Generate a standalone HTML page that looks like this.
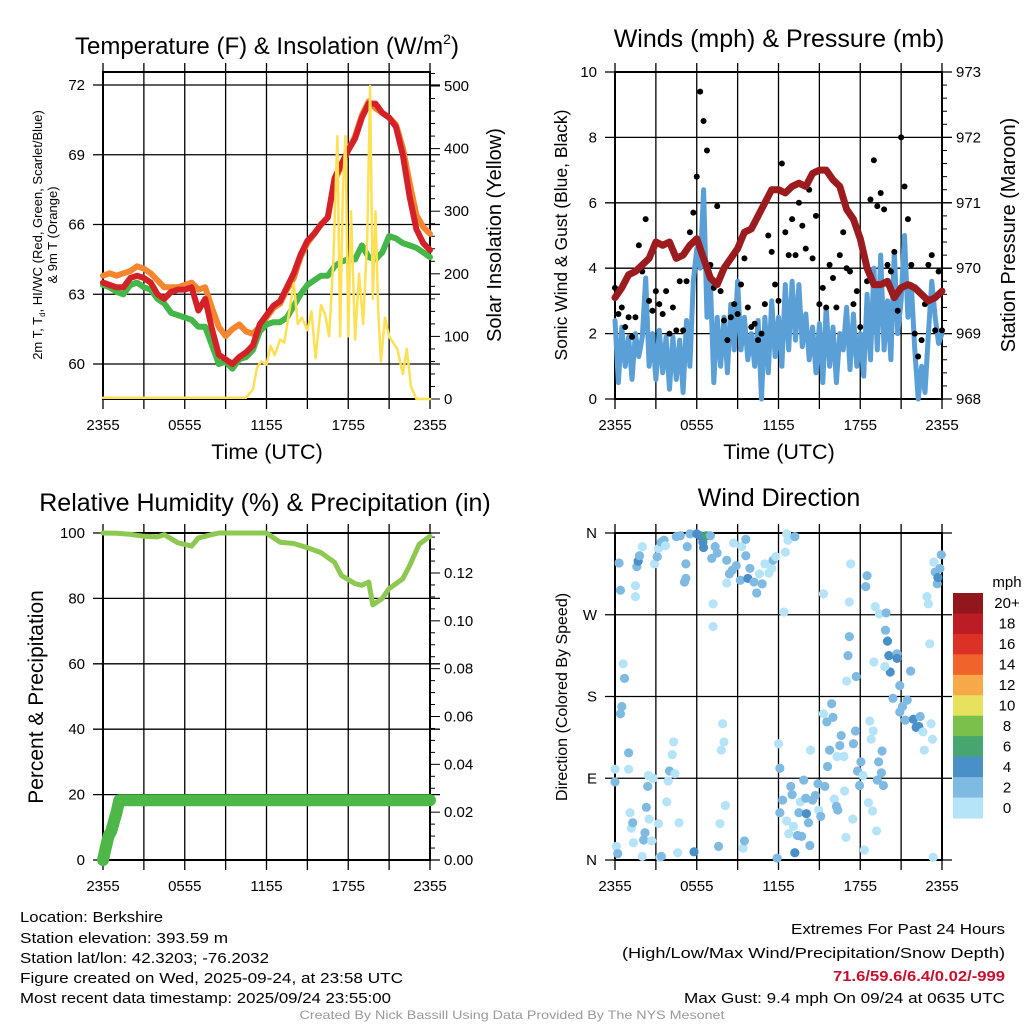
<!DOCTYPE html>
<html><head><meta charset="utf-8"><style>
html,body{margin:0;padding:0;background:#fff;}
svg{display:block;font-family:"Liberation Sans",sans-serif;}
</style></head><body>
<svg id="fig" width="1024" height="1024" viewBox="0 0 1024 1024" xmlns="http://www.w3.org/2000/svg">
<rect width="1024" height="1024" fill="#fff"/>
<g id="p1"></g>
<g id="p2"></g>
<g id="p3"></g>
<g id="p4"></g>
<g id="cbar"></g>

<text x="267" y="54" font-size="24" text-anchor="middle">Temperature (F) &amp; Insolation (W/m<tspan font-size="14" dy="-10">2</tspan><tspan dy="10">)</tspan></text>
<text x="779" y="47" font-size="25" text-anchor="middle">Winds (mph) &amp; Pressure (mb)</text>
<text x="265" y="511" font-size="25" text-anchor="middle">Relative Humidity (%) &amp; Precipitation (in)</text>
<text x="779" y="506" font-size="25" text-anchor="middle">Wind Direction</text>

<text x="267" y="459" font-size="21.5" text-anchor="middle">Time (UTC)</text>
<text x="779" y="459" font-size="21.5" text-anchor="middle">Time (UTC)</text>

<text transform="translate(42,235) rotate(-90)" font-size="13" text-anchor="middle">2m T, T<tspan font-size="8" dy="3">d</tspan><tspan dy="-3">, HI/WC (Red, Green, Scarlet/Blue)</tspan></text>
<text transform="translate(57,235) rotate(-90)" font-size="13" text-anchor="middle">&amp; 9m T (Orange)</text>
<text transform="translate(501,235) rotate(-90)" font-size="20" text-anchor="middle">Solar Insolation (Yellow)</text>
<text transform="translate(567,235) rotate(-90)" font-size="17.5" text-anchor="middle">Sonic Wind &amp; Gust (Blue, Black)</text>
<text transform="translate(1015,235) rotate(-90)" font-size="20" text-anchor="middle">Station Pressure (Maroon)</text>
<text transform="translate(43,697) rotate(-90)" font-size="21" text-anchor="middle">Percent &amp; Precipitation</text>
<text transform="translate(567,697) rotate(-90)" font-size="16" text-anchor="middle">Direction (Colored By Speed)</text>

<g font-size="15" font-family="'Liberation Sans Narrow','Liberation Sans',sans-serif">
<text x="20" y="922" textLength="143" lengthAdjust="spacingAndGlyphs">Location: Berkshire</text>
<text x="20" y="943" textLength="208" lengthAdjust="spacingAndGlyphs">Station elevation: 393.59 m</text>
<text x="20" y="963" textLength="249" lengthAdjust="spacingAndGlyphs">Station lat/lon: 42.3203; -76.2032</text>
<text x="20" y="983" textLength="383" lengthAdjust="spacingAndGlyphs">Figure created on Wed, 2025-09-24, at 23:58 UTC</text>
<text x="20" y="1003" textLength="371" lengthAdjust="spacingAndGlyphs">Most recent data timestamp: 2025/09/24 23:55:00</text>
</g>
<g font-size="15" font-family="'Liberation Sans Narrow','Liberation Sans',sans-serif" text-anchor="end">
<text x="1005" y="934" textLength="214" lengthAdjust="spacingAndGlyphs">Extremes For Past 24 Hours</text>
<text x="1005" y="958" textLength="383" lengthAdjust="spacingAndGlyphs">(High/Low/Max Wind/Precipitation/Snow Depth)</text>
<text x="1005" y="981" fill="#c8102e" font-weight="bold" textLength="172" lengthAdjust="spacingAndGlyphs">71.6/59.6/6.4/0.02/-999</text>
<text x="1005" y="1003" textLength="321" lengthAdjust="spacingAndGlyphs">Max Gust: 9.4 mph On 09/24 at 0635 UTC</text>
</g>
<text x="512" y="1019" font-size="12" fill="#999" text-anchor="middle" font-family="'Liberation Sans Narrow','Liberation Sans',sans-serif" textLength="425" lengthAdjust="spacingAndGlyphs">Created By Nick Bassill Using Data Provided By The NYS Mesonet</text>
</svg>
<script>
// ---------- data ----------
const timeTickLabels = ["2355","0555","1155","1755","2355"];
const tempTicks = [60,63,66,69,72];
const solarTicks = [0,100,200,300,400,500];
const windTicks = [0,2,4,6,8,10];
const pressTicks = [968,969,970,971,972,973];
const rhTicks = [0,20,40,60,80,100];
const precipTicks = ["0.00","0.02","0.04","0.06","0.08","0.10","0.12"];
const dirLabels = ["N","E","S","W","N"];

// half-hourly temperatures (hours 0..24)
const tempRed = [63.5,63.4,63.3,63.3,63.7,63.8,63.7,63.5,63.0,62.8,63.1,63.2,63.2,63.3,62.3,62.8,61.5,60.4,60.2,60.0,60.3,60.5,60.8,61.7,62.1,62.5,62.7,63.3,63.9,64.7,65.3,65.6,66.0,66.3,68.0,68.6,69.2,69.7,70.6,71.2,71.2,70.8,70.6,70.2,69.0,67.2,65.8,65.2,64.9];
const tempOrange = [63.8,63.9,63.8,63.9,64.0,64.2,64.1,63.9,63.6,63.3,63.3,63.3,63.4,63.5,63.2,63.3,62.4,61.6,61.2,61.5,61.7,61.4,61.3,61.6,62.0,62.4,62.6,63.2,63.7,64.6,65.2,65.6,66.0,66.3,67.9,68.5,69.2,69.8,70.7,71.3,71.0,70.8,70.6,70.3,69.3,67.8,66.4,65.9,65.6];
const tempGreen = [63.4,63.3,63.1,63.0,63.4,63.5,63.3,63.2,62.8,62.6,62.2,62.1,62.0,61.9,61.6,61.6,60.8,60.0,60.1,59.8,60.2,60.3,60.6,61.4,61.7,61.8,61.8,62.0,62.5,63.0,63.4,63.6,63.8,63.8,64.2,64.4,64.5,64.5,65.1,64.6,64.5,64.8,65.5,65.4,65.2,65.1,65.0,64.8,64.6];
const solarHours = [0,10.5,11.0,11.3,11.6,12.0,12.3,12.6,13.0,13.3,13.6,14.0,14.3,14.6,15.0,15.3,15.6,16.0,16.3,16.6,16.9,17.2,17.4,17.6,17.8,18.0,18.2,18.5,18.8,19.1,19.4,19.6,19.8,20.0,20.2,20.4,20.7,21.0,21.3,21.6,22.0,22.3,22.6,23.0,23.3,24];
const solarVals = [2,2,15,50,60,55,85,70,95,90,130,185,120,130,110,140,65,150,135,100,220,420,100,330,420,100,300,95,200,120,260,500,160,300,140,60,130,100,90,80,40,80,20,0,0,0];

// quarter-hourly winds (hours 0..24)
const windSpeed = [2.4,0.5,2.2,1.0,1.9,0.6,2.0,1.3, 1.9,3.7,1.0,2.0,0.6,2.1,0.8,1.9, 0.3,1.9,0.6,1.8,0.2,2.4,1.0,3.6, 4.6,4.0,6.4,2.5,3.6,0.5,2.5,1.0, 2.5,0.8,2.9,1.5,3.6,1.5,2.5,1.2, 2.0,1.0,2.4,0.0,2.5,0.8,3.0,1.3, 2.5,1.0,3.5,1.5,3.6,1.8,3.5,1.6, 2.6,1.2,2.2,0.8,2.3,0.5,2.8,1.0, 2.2,0.5,2.0,1.5,2.8,0.9,2.6,1.0, 2.0,0.7,3.2,1.2,4.0,1.5,4.4,1.5, 3.0,1.2,4.5,2.0,3.0,5.0,2.5,3.5, 1.5,0.0,1.0,0.2,2.0,3.6,2.5,1.7,2.0];
const windGust = [3.4,2.6,2.8,2.2,2.5,1.9,2.5,4.7, 3.9,5.5,3.0,2.7,3.3,2.9,2.6,3.3, 2.0,2.8,2.1,3.6,2.1,3.6,5.1,5.7, 6.8,9.4,8.5,7.6,4.1,3.4,5.9,3.3, 2.4,1.8,2.5,2.9,2.6,3.5,4.3,2.8, 2.2,2.3,1.8,2.0,2.9,5.0,4.5,3.5, 3.0,7.2,5.1,4.4,5.5,4.4,6.0,5.3, 4.6,6.4,4.3,5.6,2.9,3.4,2.8,4.1, 3.7,2.8,4.4,5.1,4.0,3.9,2.9,3.3, 2.2,4.4,3.6,6.1,7.3,5.9,6.3,5.8, 4.1,3.9,4.5,2.7,8.0,6.5,5.5,4.1, 2.0,1.3,1.8,2.9,4.1,4.4,2.1,3.9,2.1];
// half-hourly pressure (mb)
const pressure = [969.55,969.7,969.9,969.95,970.05,970.15,970.4,970.35,970.4,970.15,970.2,970.35,970.45,970.15,969.85,969.75,970.0,970.15,970.3,970.55,970.6,970.8,971.0,971.2,971.2,971.15,971.25,971.3,971.25,971.45,971.5,971.5,971.35,971.25,970.9,970.75,970.45,970.0,969.75,969.75,969.8,969.55,969.7,969.75,969.7,969.6,969.5,969.55,969.65];

// humidity & precip
const rhHours = [0,1,2,3,4,4.5,5.5,6.5,7,8,8.5,10,12,13,14,15,16,17,17.5,18.5,19,19.5,19.8,20.5,21,22,22.5,23.2,24];
const rhVals = [100,99.9,99.6,99,98.8,99.5,97,96,98.5,99.5,100,100,100,97.2,96.8,95.5,94,91,87,84.5,84,85,78,80,83,86,90,96.5,99];
const precipHours = [0,0.2,0.4,0.6,0.8,1.0,1.2,24];
const precipVals = [0,0.005,0.01,0.012,0.016,0.02,0.025,0.025];

// wind direction scatter
const dirHours = [0.3,0.4,1.5,1.5,1.6,1.7,1.8,2.0,2.9,3.1,3.2,3.4,3.6,3.7,4.5,4.8,5.2,5.1,5.2,5.3,5.5,6.0,6.25,6.45,6.5,6.7,7.0,7.1,7.35,7.5,7.2,7.2,8.2,8.2,8.4,8.6,8.7,8.9,9.2,9.3,9.6,9.6,9.75,9.9,10.2,10.4,10.6,10.8,11.0,11.3,11.5,11.6,11.8,12.4,12.5,12.6,12.7,13.2,15.3,17.2,17.3,18.4,18.5,19.1,19.4,19.9,19.85,20.0,20.1,20.7,20.7,20.2,19.8,19.0,20.9,20.4,20.9,21.1,21.3,21.45,21.7,21.9,22.1,22.3,22.4,22.6,22.7,23.2,23.3,23.1,22.9,23.0,23.4,23.5,23.65,23.7,23.85,23.95,23.35,17.1,17.2,17.7,17.0,
0.6,0.7,0.5,0.4,1.0,0.0,0.0,1.0,1.1,1.2,1.3,1.35,2.2,2.1,2.3,2.4,2.5,2.45,2.7,2.8,3.2,3.3,3.4,3.8,3.9,4.0,4.2,4.3,4.4,4.6,4.7,5.8,7.6,7.7,7.8,7.9,8.0,8.1,9.4,9.5,0.1,0.2,2.0,12.0,12.1,11.9,12.1,12.3,12.6,12.75,12.9,13.0,13.1,13.2,13.4,13.5,13.6,13.7,13.85,14.0,14.05,14.2,14.3,14.35,14.5,14.7,14.9,14.95,15.1,15.3,15.4,15.55,15.6,15.75,15.9,16.0,16.1,16.25,16.35,16.5,16.6,16.8,16.85,16.95,17.5,17.65,17.8,17.95,18.05,18.2,18.3,18.6,18.7,18.8,18.9,18.95,19.2,19.25,19.35,19.55,19.6,19.7,16.3,17.45];
const dirDegs = [327,297,302,290,323,329,335,345,326,334,343,350,352,346,356,357,326,306,310,345,359,359,357,350,344,357,357,332,345,338,282,257,305,330,315,319,349,324,308,345,353,335,310,321,306,294,315,304,326,316,321,330,334,273,339,359,352,356,293,284,326,301,313,279,271,272,253,241,225,227,222,207,213,218,192,178,163,169,154,176,208,155,146,147,158,141,121,150,133,238,290,282,328,317,304,311,321,336,3,225,246,202,197,
216,200,169,161,118,100,86,100,52,35,41,19,30,22,58,81,45,93,21,90,40,3,4,64,87,98,116,130,95,8,41,9,15,40,121,150,130,60,13,21,15,7,4,128,101,2,52,66,43,29,81,72,37,8,27,52,64,26,88,68,51,41,16,121,66,71,84,55,48,161,81,152,103,121,172,157,67,59,55,126,137,114,76,25,128,142,98,82,108,93,11,63,153,133,54,142,32,88,108,96,120,82,114,45];
const dirSpeeds = [2.5,2.5,1,1,2.5,4.5,2.5,1,1,2.5,1,2.5,2.5,1,2.5,2.5,2.5,2.5,2.5,2.5,2.5,4.5,4.5,4.5,4.5,6.5,2.5,2.5,2.5,2.5,1,1,1,2.5,2.5,2.5,1,2.5,2.5,1,2.5,2.5,4.5,2.5,2.5,2.5,1,2.5,1,1,1,2.5,1,1,1,1,1,2.5,1,1,1,2.5,2.5,1,1,2.5,2.5,4.5,4.5,2.5,4.5,4.5,1,1,2.5,2.5,2.5,2.5,2.5,2.5,2.5,4.5,4.5,4.5,2.5,1,1,1,1,1,1,1,1,2.5,2.5,4.5,2.5,2.5,1,2.5,2.5,2.5,1,
1,2.5,2.5,2.5,2.5,1,2.5,1,1,1,2.5,1,2.5,2.5,2.5,2.5,1,1,1,1,1,1,2.5,1,1,2.5,1,1,1,1,1,4.5,2.5,1,1,1,1,1,1,2.5,1,2.5,1,1,2.5,2.5,2.5,2.5,1,1,2.5,2.5,1,4.5,2.5,2.5,1,2.5,2.5,2.5,4.5,2.5,2.5,1,2.5,2.5,2.5,1,2.5,1,2.5,2.5,2.5,2.5,2.5,2.5,1,2.5,2.5,2.5,2.5,1,1,1,2.5,2.5,2.5,2.5,2.5,1,1,1,1,1,1,1,1,2.5,2.5,2.5,2.5,2.5,1,1];

const cbarLabels = ["20+","18","16","14","12","10","8","6","4","2","0"];
const cbarColors = ["#91171c","#bb1c25","#dc3126","#f0632a","#f7a848","#e7e25b","#7bc04a","#47a56f","#4a90c8","#7fbae3","#b5e3f8"];

// ---------- helpers ----------
const NS = "http://www.w3.org/2000/svg";
function el(tag, attrs, parent){ const e=document.createElementNS(NS,tag); for(const k in attrs) e.setAttribute(k,attrs[k]); parent.appendChild(e); return e; }
function lin(d0,d1,r0,r1){ return v => r0 + (v-d0)/(d1-d0)*(r1-r0); }

function frame(g, x0,x1,y0,y1, nameP){
  const xs = lin(0,24,x0,x1);
  for(let i=0;i<=8;i++){
    const x = xs(i*3);
    const l = el("line",{x1:x,x2:x,y1:y0-9,y2:y1+10,stroke:"#000","stroke-width":1.3},g);
    
    
  }
  for(let i=0;i<5;i++){
    const t = el("text",{x:xs(i*6),y:y1+31,"font-size":15,"text-anchor":"middle"},g);
    t.textContent = timeTickLabels[i];
    
    
  }
  const b = el("rect",{x:x0,y:y0,width:x1-x0,height:y1-y0,fill:"none",stroke:"#000","stroke-width":2},g);
  
  
  return xs;
}
function hgrid(g,x0,x1,y,lab,xl){
  const l = el("line",{x1:x0-10,x2:x1+10,y1:y,y2:y,stroke:"#000","stroke-width":1.3},g);
  
  
  if(lab!==null){
    const t = el("text",{x:xl,y:y+5,"font-size":15,"text-anchor":"end"},g);
    t.textContent = lab;
    
    
  }
}
function rlabel(g,x,y,lab){
  const t = el("text",{x:x,y:y+5,"font-size":15,"text-anchor":"start"},g);
  t.textContent = lab;
  
  
}
function rtick(g,x,y,len){
  const l=el("line",{x1:x,x2:x+len,y1:y,y2:y,stroke:"#000","stroke-width":1},g);
  
  
}
function poly(g, xsArr, ysArr, color, w, name){
  const pts = xsArr.map((x,i)=>x.toFixed(1)+","+ysArr[i].toFixed(1)).join(" ");
  const p = el("polyline",{points:pts,fill:"none",stroke:color,"stroke-width":w,"stroke-linejoin":"round","stroke-linecap":"round"},g);
  
  
}

// ---------- panel 1 ----------
(function(){
  const g=document.getElementById("p1");
  const x0=103,x1=430,y0=72,y1=399;
  const ty = lin(60,72,364,85), sy = lin(0,500,399,86);
  tempTicks.forEach(v=>hgrid(g,x0,x1,ty(v),String(v),85));
  for(let v=0; v<=520; v+=20){ rtick(g,x1,sy(v), v%100===0?10:5); }
  solarTicks.forEach(v=>rlabel(g,x1+14,sy(v),String(v)));
  const xs = frame(g,x0,x1,y0,y1,"temperature");
  const hh = tempRed.map((_,i)=>xs(i*0.5));
  poly(g,hh,tempOrange.map(ty),"#f4862f",6,"line-9m-temp-orange");
  poly(g,hh,tempGreen.map(ty),"#45b649",6,"line-dewpoint-green");
  poly(g,hh,tempRed.map(ty),"#d42127",6,"line-2m-temp-red");
  poly(g,solarHours.map(xs),solarVals.map(sy),"#fde054",2.5,"line-solar-yellow");
})();

// ---------- panel 2 ----------
(function(){
  const g=document.getElementById("p2");
  const x0=615,x1=942,y0=72,y1=399;
  const wy = lin(0,10,399,72), py = lin(968,973,399,72);
  windTicks.forEach(v=>hgrid(g,x0,x1,wy(v),String(v),597));
  for(let v=968; v<=973.001; v+=0.2){ rtick(g,x1,py(v), Math.abs(v-Math.round(v))<0.01?10:5); }
  pressTicks.forEach(v=>rlabel(g,x1+14,py(v),String(v)));
  const xs = frame(g,x0,x1,y0,y1,"wind");
  poly(g,windSpeed.map((_,i)=>xs(i*0.25)),windSpeed.map(wy),"#5a9fd6",5,"line-wind-speed-blue");
  windGust.forEach((v,i)=>{
    const c=el("circle",{cx:xs(i*0.25),cy:wy(v),r:3,fill:"#000"},g);
    
    
  });
  poly(g,pressure.map((_,i)=>xs(i*0.5)),pressure.map(py),"#9b1b1e",7,"line-pressure-maroon");
})();

// ---------- panel 3 ----------
(function(){
  const g=document.getElementById("p3");
  const x0=103,x1=430,y0=533,y1=860;
  const ry = lin(0,100,860,533), qy = lin(0,0.12,860,573);
  rhTicks.forEach(v=>hgrid(g,x0,x1,ry(v),String(v),85));
  for(let k=0;k<=27;k++){ rtick(g,x1,qy(k*0.005), k%4===0?10:5); }
  precipTicks.forEach(v=>rlabel(g,x1+14,qy(parseFloat(v)),v));
  const xs = frame(g,x0,x1,y0,y1,"humidity");
  poly(g,rhHours.map(xs),rhVals.map(ry),"#8dc850",5,"line-relative-humidity");
  poly(g,precipHours.map(xs),precipVals.map(qy),"#4db848",12,"line-precipitation");
})();

// ---------- panel 4 ----------
(function(){
  const g=document.getElementById("p4");
  const x0=615,x1=942,y0=533,y1=860;
  const dy = lin(0,360,860,533);
  dirLabels.forEach((l,i)=>hgrid(g,x0,x1,dy(i*90),l,597));
  const xs = frame(g,x0,x1,y0,y1,"direction");
  dirHours.forEach((h,i)=>{
    const s=dirSpeeds[i];
    const bin=Math.min(10,Math.floor(s/2));
    const c=el("circle",{cx:xs(h),cy:dy(dirDegs[i]),r:4.6,fill:cbarColors[10-bin]},g);
    
    
  });
})();

// ---------- colorbar ----------
(function(){
  const g=document.getElementById("cbar");
  const y0=593,h=225/11;
  const t=el("text",{x:1007,y:587,"font-size":15,"text-anchor":"middle"},g);
  t.textContent="mph";
  
  
  cbarColors.forEach((c,i)=>{
    const r=el("rect",{x:953,y:y0+i*h,width:30,height:h+0.5,fill:c},g);
    
    
    const l=el("text",{x:1007,y:y0+i*h+h/2+5,"font-size":15,"text-anchor":"middle"},g);
    l.textContent=cbarLabels[i];
    
    
  });
})();
</script>
</body></html>
